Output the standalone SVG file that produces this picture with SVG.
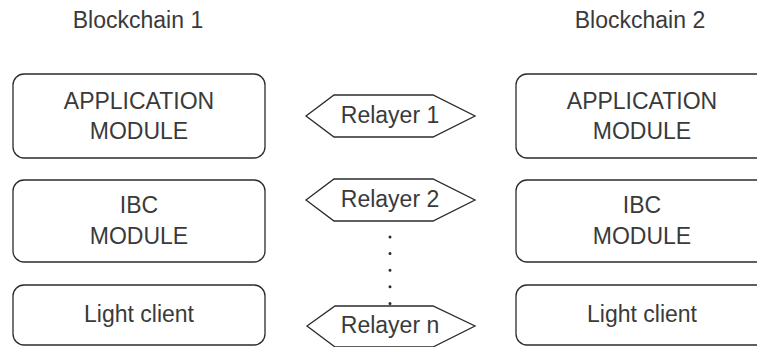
<svg xmlns="http://www.w3.org/2000/svg" width="757" height="347" viewBox="0 0 757 347">
  <style>
    .box { fill: #ffffff; stroke: #2b2b2b; stroke-width: 1.3; }
    .hex { fill: #ffffff; stroke: #2b2b2b; stroke-width: 1.3; }
    .lbl { font-family: "Liberation Sans", Arial, sans-serif; font-size: 23px; fill: #3a3a3a; text-anchor: middle; }
    .dots { stroke: #2b2b2b; stroke-width: 3; stroke-linecap: round; stroke-dasharray: 0 16.6; fill: none; }
  </style>
  <rect width="757" height="347" fill="#ffffff"/>

  <!-- column titles -->
  <text class="lbl" x="138" y="28">Blockchain 1</text>
  <text class="lbl" x="640" y="28">Blockchain 2</text>

  <!-- Blockchain 1 modules -->
  <g id="app1">
    <rect class="box" x="13" y="74" width="252" height="84" rx="11"/>
    <text class="lbl" x="139" y="109">APPLICATION</text>
    <text class="lbl" x="139" y="139">MODULE</text>
  </g>
  <g id="ibc1">
    <rect class="box" x="13" y="180" width="252" height="82" rx="11"/>
    <text class="lbl" x="139" y="213">IBC</text>
    <text class="lbl" x="139" y="244">MODULE</text>
  </g>
  <g id="lc1">
    <rect class="box" x="13" y="285" width="252" height="60" rx="11"/>
    <text class="lbl" x="139" y="322">Light client</text>
  </g>

  <!-- Blockchain 2 modules -->
  <g id="app2">
    <rect class="box" x="516" y="74" width="252" height="84" rx="11"/>
    <text class="lbl" x="642" y="109">APPLICATION</text>
    <text class="lbl" x="642" y="139">MODULE</text>
  </g>
  <g id="ibc2">
    <rect class="box" x="516" y="180" width="252" height="82" rx="11"/>
    <text class="lbl" x="642" y="213">IBC</text>
    <text class="lbl" x="642" y="244">MODULE</text>
  </g>
  <g id="lc2">
    <rect class="box" x="516" y="285" width="252" height="60" rx="11"/>
    <text class="lbl" x="642" y="322">Light client</text>
  </g>

  <!-- relayers -->
  <g id="relayer1">
    <polygon class="hex" points="306,116 334,95 433,95 475,116 433,137 334,137"/>
    <text class="lbl" x="390" y="123">Relayer 1</text>
  </g>
  <g id="relayer2">
    <polygon class="hex" points="306,200 334,179 433,179 475,200 433,221 334,221"/>
    <text class="lbl" x="390" y="207">Relayer 2</text>
  </g>
  <g id="relayern">
    <polygon class="hex" points="307,326 335,306 433,306 475,326 433,347 335,347"/>
    <text class="lbl" x="390" y="333">Relayer n</text>
  </g>

  <!-- dotted link between relayers -->
  <g id="connectors">
    <line class="dots" x1="390" y1="237" x2="390" y2="306"/>
  </g>
</svg>
